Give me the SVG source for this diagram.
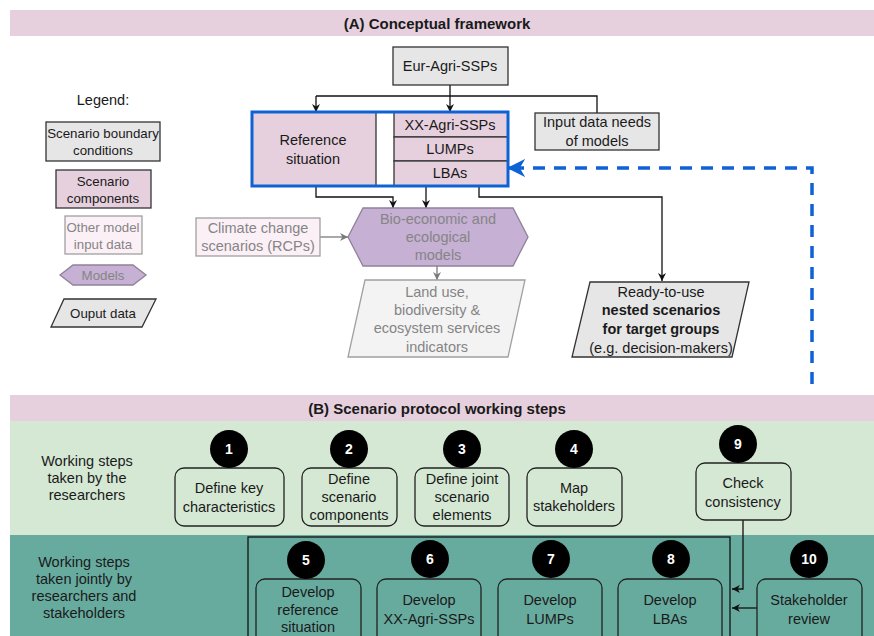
<svg xmlns="http://www.w3.org/2000/svg" width="874" height="636" viewBox="0 0 874 636">
<style>
text{font-family:"Liberation Sans",Arial,sans-serif;font-size:14.5px;fill:#1a1a1a;text-anchor:middle;dominant-baseline:central}
.title{font-weight:bold;font-size:15px}
.lg{font-size:13.3px}
.grey{fill:#e6e6e6;stroke:#333;stroke-width:1.3}
.pink{fill:#e6d0de;stroke:#333;stroke-width:1.3}
.lpink{fill:#fcf0f7;stroke:#a0a0a0;stroke-width:1.3}
.purple{fill:#c6b0d4;stroke:#8f8199;stroke-width:1.3}
.light{fill:#f3f3f3;stroke:#a0a0a0;stroke-width:1.3}
.gt{fill:#858585}
.step{fill:none;stroke:#222;stroke-width:1.3}
.num circle{fill:#000}
.num text{fill:#fff;font-weight:bold;font-size:14px}
.conn{fill:none;stroke:#111;stroke-width:1.3}
.gconn{fill:none;stroke:#7a7a7a;stroke-width:1.3}
.b{font-weight:bold}
</style>
<defs>
<marker id="ah" viewBox="0 0 10 10" refX="10" refY="5" markerWidth="8" markerHeight="8" markerUnits="userSpaceOnUse" orient="auto"><path d="M0,0 L10,5 L0,10 L3,5 z" fill="#111"/></marker>
<marker id="gah" viewBox="0 0 10 10" refX="10" refY="5" markerWidth="8" markerHeight="8" markerUnits="userSpaceOnUse" orient="auto"><path d="M0,0 L10,5 L0,10 L3,5 z" fill="#7a7a7a"/></marker>
<marker id="bah" viewBox="0 0 10 10" refX="9" refY="5" markerWidth="18" markerHeight="18" markerUnits="userSpaceOnUse" orient="auto"><path d="M0,0 L10,5 L0,10 L3,5 z" fill="#0f62d6"/></marker>
</defs>

<!-- Backgrounds -->
<rect x="10" y="10" width="864" height="26" fill="#e6d0de"/>
<text class="title" x="437" y="23">(A) Conceptual framework</text>
<rect x="10" y="395" width="864" height="26" fill="#e6d0de"/>
<text class="title" x="437" y="408">(B) Scenario protocol working steps</text>
<rect x="10" y="421" width="864" height="114" fill="#d5e8d4"/>
<rect x="10" y="535" width="864" height="101" fill="#67ab9f"/>

<!-- Legend -->
<g id="legend">
<text x="103" y="100">Legend:</text>
<rect class="grey" x="46" y="122" width="114" height="39"/>
<text class="lg" x="103" y="133">Scenario boundary</text>
<text class="lg" x="103" y="150">conditions</text>
<rect class="pink" x="56" y="170" width="95" height="38"/>
<text class="lg" x="103" y="181">Scenario</text>
<text class="lg" x="103" y="198">components</text>
<rect class="lpink" x="65" y="216" width="77" height="38"/>
<text class="gt lg" x="103" y="227">Other model</text>
<text class="gt lg" x="103" y="244">input data</text>
<polygon class="purple" points="60,275 73,265 133,265 146,275 133,285 73,285"/>
<text class="gt lg" x="103" y="275">Models</text>
<polygon class="grey" points="64,299 156,299 142,327 51,327"/>
<text class="lg" x="103" y="313">Ouput data</text>
</g>

<!-- Connectors -->
<g id="connectors">
<path class="conn" d="M450,85 V96 M316,96 H597 V113"/>
<path class="conn" d="M316,96 V112" marker-end="url(#ah)"/>
<path class="conn" d="M450,96 V112" marker-end="url(#ah)"/>
<path class="conn" d="M316,186 V197 H393 V208" marker-end="url(#ah)"/>
<path class="conn" d="M426,186 V208" marker-end="url(#ah)"/>
<path class="conn" d="M479,186 V197 H662 V281" marker-end="url(#ah)"/>
<path class="gconn" d="M320,237 H348" marker-end="url(#gah)"/>
<path class="gconn" d="M437,266 V280" marker-end="url(#gah)"/>
<path d="M812,384 V168 H514" fill="none" stroke="#0f62d6" stroke-width="3.5" stroke-dasharray="12 9"/>
<path d="M520,168 H509" fill="none" stroke="#0f62d6" stroke-width="3.5" marker-end="url(#bah)"/>
<path class="conn" d="M743,520 V589 H732" marker-end="url(#ah)"/>
<path class="conn" d="M757,608 H732" marker-end="url(#ah)"/>
<rect class="conn" x="248" y="537" width="482" height="120"/>
</g>

<!-- Framework nodes -->
<g id="eur-agri-ssps">
<rect class="grey" x="393" y="47" width="115" height="38"/>
<text x="450" y="66">Eur-Agri-SSPs</text>
</g>
<g id="input-data-needs">
<rect class="grey" x="535" y="113" width="124" height="37"/>
<text x="597" y="122">Input data needs</text>
<text x="597" y="141">of models</text>
</g>
<g id="scenario-components">
<rect x="252" y="112" width="256" height="74" fill="#fff"/>
<rect class="pink" x="252" y="112" width="124" height="74"/>
<text x="313" y="140">Reference</text>
<text x="313" y="159">situation</text>
<rect class="pink" x="394" y="112" width="114" height="25"/>
<text x="450" y="125">XX-Agri-SSPs</text>
<rect class="pink" x="394" y="137" width="114" height="24"/>
<text x="450" y="149">LUMPs</text>
<rect class="pink" x="394" y="161" width="114" height="25"/>
<text x="450" y="173">LBAs</text>
<rect x="252" y="112" width="256" height="74" fill="none" stroke="#0f62d6" stroke-width="3"/>
</g>
<g id="climate-change">
<rect class="lpink" x="196" y="218" width="124" height="38"/>
<text class="gt" x="258" y="228">Climate change</text>
<text class="gt" x="258" y="246">scenarios (RCPs)</text>
</g>
<g id="models">
<polygon class="purple" points="348,237 363,208 513,208 528,237 513,266 363,266"/>
<text class="gt" x="438" y="219">Bio-economic and</text>
<text class="gt" x="438" y="237">ecological</text>
<text class="gt" x="438" y="255">models</text>
</g>
<g id="land-use">
<polygon class="light" points="365,280 525,280 508,357 348,357"/>
<text class="gt" x="437" y="292">Land use,</text>
<text class="gt" x="437" y="310">biodiversity &amp;</text>
<text class="gt" x="437" y="328">ecosystem services</text>
<text class="gt" x="437" y="347">indicators</text>
</g>
<g id="ready-to-use">
<polygon class="grey" points="590,282 749,282 732,357 572,357"/>
<text x="661" y="292">Ready-to-use</text>
<text class="b" x="661" y="310">nested scenarios</text>
<text class="b" x="661" y="329">for target groups</text>
<text x="661" y="348">(e.g. decision-makers)</text>
</g>

<!-- Row labels -->
<g id="row-researchers">
<text x="87" y="461">Working steps</text>
<text x="87" y="478">taken by the</text>
<text x="87" y="495">researchers</text>
</g>
<g id="row-joint">
<text x="84" y="562">Working steps</text>
<text x="84" y="579">taken jointly by</text>
<text x="84" y="596">researchers and</text>
<text x="84" y="613">stakeholders</text>
</g>

<!-- Steps -->
<g id="step1">
<rect class="step" x="175" y="468" width="109" height="58" rx="9"/>
<text x="229" y="488">Define key</text>
<text x="229" y="507">characteristics</text>
<g class="num"><circle cx="229" cy="449" r="19"/><text x="229" y="449">1</text></g>
</g>
<g id="step2">
<rect class="step" x="302" y="468" width="95" height="58" rx="9"/>
<text x="349" y="479">Define</text>
<text x="349" y="497">scenario</text>
<text x="349" y="515">components</text>
<g class="num"><circle cx="349" cy="449" r="19"/><text x="349" y="449">2</text></g>
</g>
<g id="step3">
<rect class="step" x="415" y="468" width="94" height="58" rx="9"/>
<text x="462" y="479">Define joint</text>
<text x="462" y="497">scenario</text>
<text x="462" y="515">elements</text>
<g class="num"><circle cx="462" cy="449" r="19"/><text x="462" y="449">3</text></g>
</g>
<g id="step4">
<rect class="step" x="527" y="468" width="95" height="58" rx="9"/>
<text x="574" y="488">Map</text>
<text x="574" y="506">stakeholders</text>
<g class="num"><circle cx="574" cy="449" r="19"/><text x="574" y="449">4</text></g>
</g>
<g id="step9">
<rect class="step" x="696" y="463" width="95" height="57" rx="9"/>
<text x="743" y="483">Check</text>
<text x="743" y="502">consistency</text>
<g class="num"><circle cx="738" cy="444" r="19"/><text x="738" y="444">9</text></g>
</g>
<g id="step5">
<rect class="step" x="256" y="579" width="105" height="70" rx="9"/>
<text x="308" y="592">Develop</text>
<text x="308" y="610">reference</text>
<text x="308" y="627">situation</text>
<g class="num"><circle cx="306" cy="560" r="19"/><text x="306" y="560">5</text></g>
</g>
<g id="step6">
<rect class="step" x="377" y="579" width="104" height="70" rx="9"/>
<text x="429" y="600">Develop</text>
<text x="429" y="619">XX-Agri-SSPs</text>
<g class="num"><circle cx="430" cy="559" r="19"/><text x="430" y="559">6</text></g>
</g>
<g id="step7">
<rect class="step" x="498" y="579" width="104" height="70" rx="9"/>
<text x="550" y="600">Develop</text>
<text x="550" y="619">LUMPs</text>
<g class="num"><circle cx="551" cy="559" r="19"/><text x="551" y="559">7</text></g>
</g>
<g id="step8">
<rect class="step" x="618" y="579" width="104" height="70" rx="9"/>
<text x="670" y="600">Develop</text>
<text x="670" y="619">LBAs</text>
<g class="num"><circle cx="671" cy="559" r="19"/><text x="671" y="559">8</text></g>
</g>
<g id="step10">
<rect class="step" x="757" y="579" width="105" height="70" rx="9"/>
<text x="809" y="600">Stakeholder</text>
<text x="809" y="619">review</text>
<g class="num"><circle cx="809" cy="559" r="19"/><text x="809" y="559">10</text></g>
</g>
</svg>
